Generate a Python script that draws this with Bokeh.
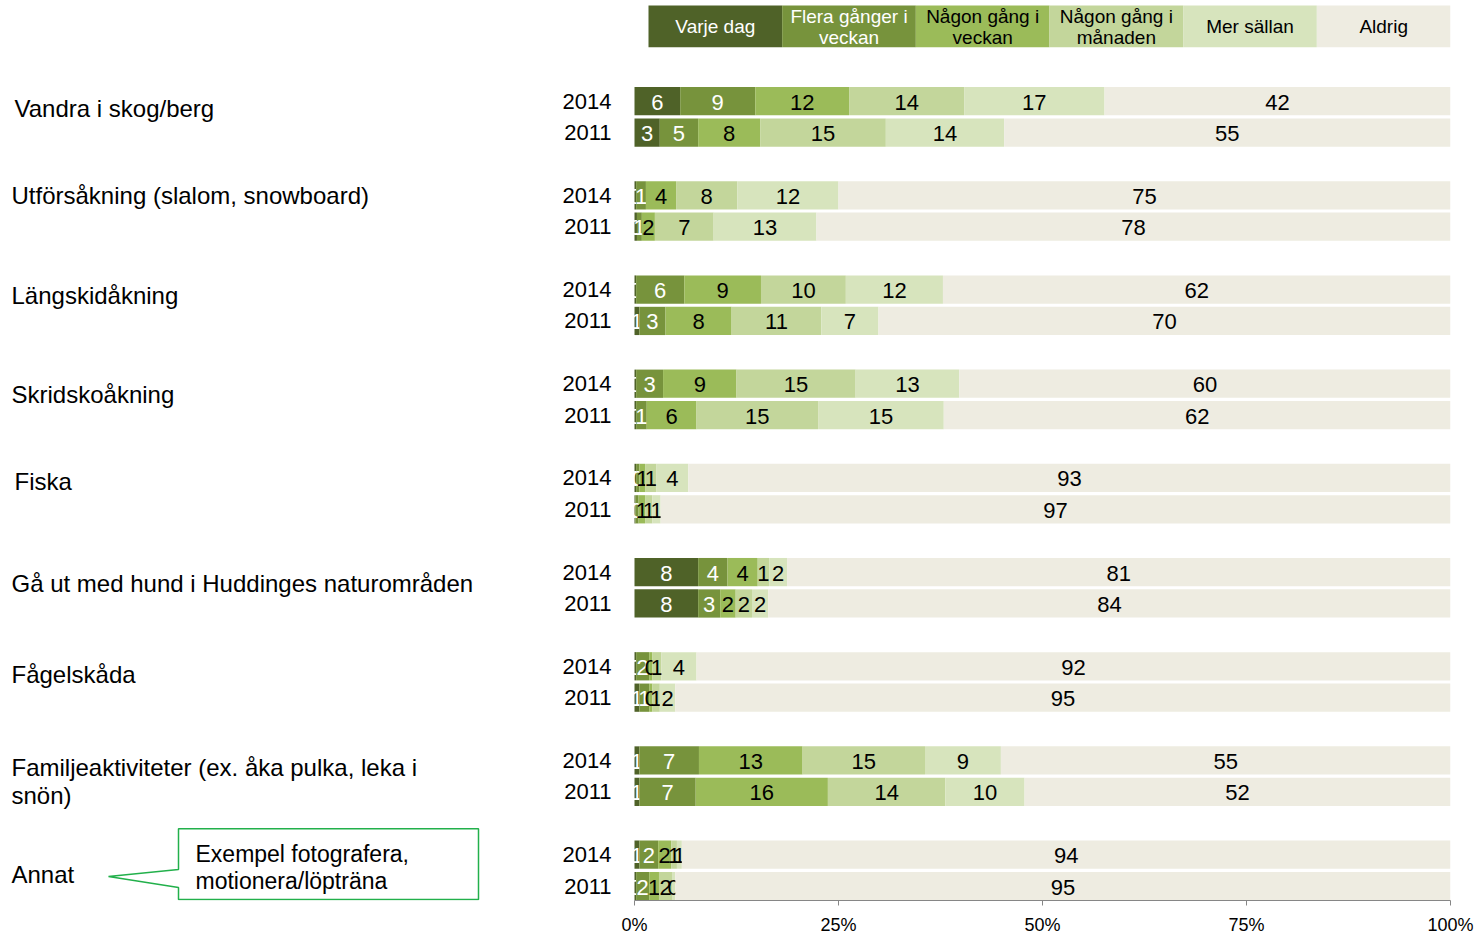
from bokeh.plotting import figure
from bokeh.models import Range1d, FixedTicker, ColumnDataSource
from bokeh.core.properties import value
from bokeh.embed import file_html
from bokeh.resources import INLINE

# ---------------- data ----------------
categories = ["Vandra i skog/berg", "Utförsåkning (slalom, snowboard)", "Längskidåkning",
              "Skridskoåkning", "Fiska", "Gå ut med hund i Huddinges naturområden",
              "Fågelskåda", "Familjeaktiviteter (ex. åka pulka, leka i\nsnön)", "Annat"]
years = ["2014", "2011"]
series = ["Varje dag", "Flera gånger i\nveckan", "Någon gång i\nveckan",
          "Någon gång i\nmånaden", "Mer sällan", "Aldrig"]

# rows: for each category, 2014 then 2011 (percent)
varje_dag = [5.6, 3.1, 0.2, 0.3, 0.2, 0.6, 0.2, 0.2, 0.2, 0.1, 7.8, 7.8, 0.2, 0.6, 0.6, 0.6, 0.6, 0.2]
flera_ggr_vecka = [9.2, 4.7, 1.2, 0.6, 5.9, 3.2, 3.3, 1.3, 0.4, 0.4, 3.6, 2.7, 1.6, 1.2, 7.3, 6.9, 2.3, 1.6]
ngn_gang_vecka = [11.5, 7.6, 3.7, 1.6, 9.4, 8.1, 9.0, 6.1, 0.7, 0.8, 3.7, 1.9, 0.4, 0.4, 12.7, 16.2, 1.6, 1.2]
ngn_gang_manad = [14.1, 15.4, 7.5, 7.2, 10.4, 11.0, 14.6, 14.9, 1.4, 0.9, 1.4, 2.0, 1.1, 0.9, 15.0, 14.4, 0.7, 1.6]
mer_sallan = [17.2, 14.5, 12.4, 12.6, 11.9, 7.0, 12.7, 15.4, 3.9, 1.0, 2.2, 2.0, 4.3, 1.9, 9.3, 9.7, 0.6, 0.4]
aldrig = [42.4, 54.7, 75.0, 77.7, 62.2, 70.1, 60.2, 62.1, 93.4, 96.8, 81.3, 83.6, 92.4, 95.0, 55.1, 52.2, 94.2, 95.0]

tick_values = [0, 25, 50, 75, 100]
tick_labels = ["0%", "25%", "50%", "75%", "100%"]

callout_text = ["Exempel fotografera,", "motionera/löpträna"]

# ---------------- styles ----------------
colors = ["#4F6228", "#77933C", "#9BBB59", "#C3D69B", "#D7E4BD", "#EEECE1"]
label_colors = ["white", "white", "black", "black", "black", "black"]
FONT_NAME = "Liberation Sans"
FONT = value(FONT_NAME)

all_series = [varje_dag, flera_ggr_vecka, ngn_gang_vecka, ngn_gang_manad, mer_sallan, aldrig]
n_rows = len(varje_dag)
positions = [3 * (r // 2) + (r % 2) for r in range(n_rows)]

# layout helpers (screen px of the reference -> data units)
X0, PX_PER_PCT = 634.0, 8.16
Y0, PX_PER_UNIT = 101.0, 31.5
def px_x(px):
    return (px - X0) / PX_PER_PCT
def px_y(py):
    return (py - Y0) / PX_PER_UNIT

W, H = 1475, 937
FRAME_R, FRAME_B = 1450, 903
p = figure(width=W, height=H, output_backend="svg", toolbar_location=None,
           x_range=Range1d(px_x(0), px_x(FRAME_R)), y_range=Range1d(px_y(FRAME_B), px_y(0)),
           min_border_left=0, min_border_right=W - FRAME_R, min_border_top=0,
           min_border_bottom=H - FRAME_B)
p.outline_line_color = None
p.xgrid.visible = False
p.ygrid.visible = False
p.yaxis.visible = False
p.background_fill_color = "white"
p.border_fill_color = "white"

# ---------------- stacked bars ----------------
lefts = [0.0] * n_rows
for s_idx, vals in enumerate(all_series):
    rights = [l + v for l, v in zip(lefts, vals)]
    src = ColumnDataSource(dict(
        y=positions, left=lefts, right=rights,
        xc=[(l + r) / 2 for l, r in zip(lefts, rights)],
        lab=[str(int(round(v))) for v in vals]))
    p.hbar(y="y", left="left", right="right", height=0.9, source=src,
           fill_color=colors[s_idx], line_color=None)
    p.text(x="xc", y="y", text="lab", source=src, text_color=label_colors[s_idx],
           text_align="center", text_baseline="middle", text_font=FONT,
           text_font_size="22px", y_offset=1)
    lefts = rights

# year labels next to each bar
p.text(x=[px_x(611)] * n_rows, y=positions, text=[years[r % 2] for r in range(n_rows)],
       text_color="black", text_align="right", text_baseline="middle",
       text_font=FONT, text_font_size="22px")

# ---------------- legend (boxes on top) ----------------
leg_left = px_x(648)
leg_w = (100 - leg_left) / len(series)
for i, name in enumerate(series):
    l = leg_left + i * leg_w
    p.quad(left=l, right=l + leg_w, top=px_y(5), bottom=px_y(47),
           fill_color=colors[i], line_color=None)
    lines = name.split("\n")
    ys = [px_y(26)] if len(lines) == 1 else [px_y(16), px_y(37)]
    for ln, yy in zip(lines, ys):
        p.text(x=[l + leg_w / 2], y=[yy], text=[ln], text_color=label_colors[i],
               text_align="center", text_baseline="middle", text_font=FONT,
               text_font_size="19px")

# ---------------- x axis ----------------
xa = p.xaxis[0]
xa.bounds = (0, 100)
xa.ticker = FixedTicker(ticks=tick_values)
xa.major_label_overrides = {v: t for v, t in zip(tick_values, tick_labels)}
xa.axis_line_color = "#868686"
xa.major_tick_line_color = "#868686"
xa.major_tick_out = 5
xa.major_tick_in = 0
xa.minor_tick_line_color = None
xa.major_label_standoff = 9
xa.major_label_text_font = FONT_NAME
xa.major_label_text_font_size = "18px"
xa.major_label_text_color = "black"

# ---------------- category labels ----------------
cat_label_y = [108, 196, 296, 395, 483, 585, 676, 784, 877]
cat_label_x = [14, 11, 11, 11, 14, 11, 11, 11, 11]
for name, cy, cx in zip(categories, cat_label_y, cat_label_x):
    lines = name.split("\n")
    ys = [cy] if len(lines) == 1 else [cy - 14, cy + 14]
    p.text(x=[px_x(cx)] * len(lines), y=[px_y(v) for v in ys], text=lines,
           text_color="black", text_align="left", text_baseline="middle",
           text_font=FONT, text_font_size="24px")

# ---------------- callout for "Annat" ----------------
call_px = [(178, 831), (478, 831), (478, 902), (178, 902), (178, 890), (108, 879), (178, 872)]
p.patch(x=[px_x(a) for a, b in call_px], y=[px_y(b) for a, b in call_px],
        fill_color="white", line_color="#22B04B", line_width=1.5)
p.text(x=[px_x(195)] * 2, y=[px_y(856), px_y(883)], text=callout_text,
       text_color="black", text_align="left", text_baseline="middle",
       text_font=FONT, text_font_size="23px")

open("out.html", "w").write(file_html(p, INLINE))
